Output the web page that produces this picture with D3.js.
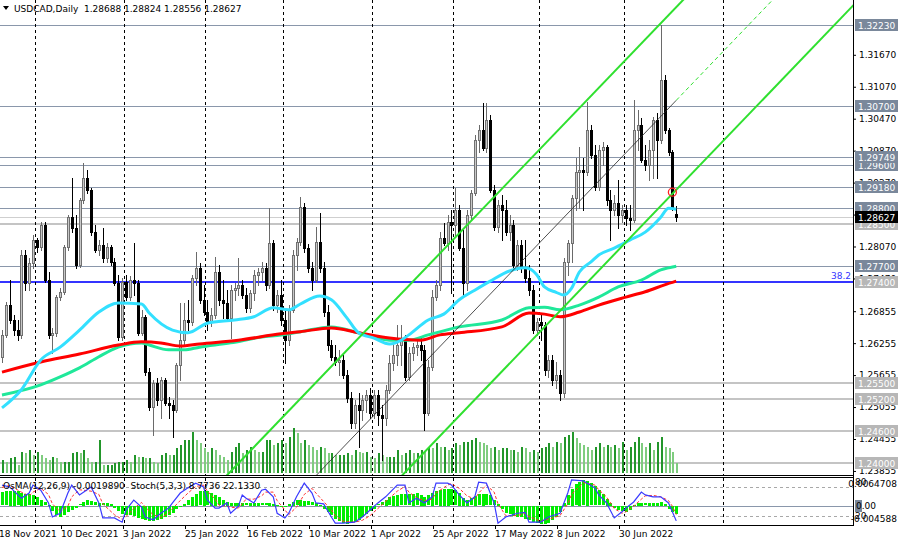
<!DOCTYPE html>
<html><head><meta charset="utf-8">
<script src="https://cdn.jsdelivr.net/npm/d3@7/dist/d3.min.js"></script>
<style>
html,body{margin:0;padding:0;background:#fff;}
svg{display:block;}
text{font-family:"DejaVu Sans",sans-serif;font-size:9px;}
</style></head><body>
<svg id="chart" width="900" height="545"></svg>
<script>
// ---------------- DATA ----------------
const symbolTitle = "USDCAD,Daily";
const lastQuote = [1.28688, 1.28824, 1.28556, 1.28627];
const open = [
1.2600,1.2641,1.2697,1.2669,1.2650,1.2641,1.2791,1.2739,1.2776,1.2819,
1.2806,1.2848,1.2744,1.2641,1.2645,1.2712,1.2722,1.2806,1.2863,1.2842,
1.2772,1.2894,1.2936,1.2913,1.2834,1.2801,1.2810,1.2785,1.2806,1.2778,
1.2739,1.2637,1.2740,1.2712,1.2744,1.2739,1.2645,1.2675,1.2571,1.2506,
1.2551,1.2519,1.2556,1.2513,1.2509,1.2500,1.2585,1.2632,1.2669,1.2665,
1.2748,1.2767,1.2707,1.2684,1.2665,1.2678,1.2759,1.2707,1.2701,1.2673,
1.2725,1.2729,1.2735,1.2716,1.2692,1.2720,1.2754,1.2759,1.2767,1.2735,
1.2814,1.2697,1.2716,1.2669,1.2632,1.2688,1.2791,1.2815,1.2881,1.2804,
1.2767,1.2744,1.2815,1.2767,1.2684,1.2622,1.2600,1.2590,1.2594,1.2566,
1.2523,1.2476,1.2509,1.2500,1.2519,1.2528,1.2494,1.2528,1.2491,1.2485,
1.2538,1.2588,1.2603,1.2622,1.2632,1.2562,1.2607,1.2618,1.2622,1.2613,
1.2494,1.2581,1.2712,1.2735,1.2823,1.2814,1.2853,1.2848,1.2876,1.2804,
1.2739,1.2866,1.2908,1.3007,1.3026,1.2992,1.3045,1.2913,1.2844,1.2885,
1.2876,1.2834,1.2848,1.2772,1.2810,1.2767,1.2748,1.2725,1.2650,1.2665,
1.2660,1.2575,1.2594,1.2556,1.2566,1.2532,1.2778,1.2814,1.2898,1.2947,
1.2951,1.2947,1.3026,1.2979,1.2919,1.2988,1.2994,1.2894,1.2876,1.2889,
1.2866,1.2876,1.2861,1.2857,1.3026,1.3035,1.2970,1.2960,1.2988,1.3045,
1.3007,1.3120,1.3026,1.2985,1.28688];
const high = [
1.2650,1.2703,1.2744,1.2678,1.2669,1.2801,1.2801,1.2785,1.2829,1.2823,
1.2853,1.2853,1.2759,1.2654,1.2716,1.2729,1.2810,1.2866,1.2936,1.2866,
1.2898,1.2964,1.2951,1.2917,1.2848,1.2819,1.2842,1.2814,1.2810,1.2785,
1.2754,1.2748,1.2754,1.2752,1.2814,1.2744,1.2688,1.2678,1.2579,1.2556,
1.2560,1.2562,1.2560,1.2525,1.2519,1.2588,1.2701,1.2701,1.2707,1.2754,
1.2797,1.2776,1.2735,1.2707,1.2692,1.2787,1.2772,1.2744,1.2725,1.2735,
1.2739,1.2785,1.2744,1.2729,1.2725,1.2763,1.2767,1.2778,1.2776,1.2879,
1.2819,1.2725,1.2744,1.2688,1.2697,1.2801,1.2823,1.2900,1.2889,1.2812,
1.2778,1.2844,1.2870,1.2778,1.2697,1.2632,1.2622,1.2613,1.2603,1.2575,
1.2534,1.2519,1.2532,1.2528,1.2538,1.2541,1.2538,1.2538,1.2509,1.2547,
1.2603,1.2626,1.2660,1.2660,1.2641,1.2618,1.2626,1.2632,1.2635,1.2622,
1.2594,1.2725,1.2744,1.2834,1.2851,1.2866,1.2876,1.2917,1.2885,1.2838,
1.2876,1.2913,1.3017,1.3035,1.3077,1.3077,1.3054,1.2923,1.2894,1.2904,
1.2894,1.2866,1.2857,1.2819,1.2819,1.2819,1.2772,1.2735,1.2673,1.2678,
1.2665,1.2603,1.2603,1.2590,1.2575,1.2785,1.2819,1.2904,1.2973,1.2994,
1.2973,1.3078,1.3035,1.2998,1.2998,1.3003,1.2998,1.2913,1.2904,1.2932,
1.2885,1.2885,1.2885,1.3082,1.3063,1.3048,1.2998,1.3007,1.3050,1.3058,
1.3223,1.3129,1.3030,1.2988,1.28824];
const low = [
1.2590,1.2637,1.2663,1.2641,1.2632,1.2635,1.2725,1.2725,1.2767,1.2797,
1.2801,1.2740,1.2635,1.2607,1.2639,1.2707,1.2718,1.2801,1.2834,1.2767,
1.2769,1.2889,1.2908,1.2829,1.2797,1.2791,1.2778,1.2778,1.2772,1.2735,
1.2632,1.2632,1.2707,1.2707,1.2716,1.2641,1.2641,1.2566,1.2500,1.2453,
1.2509,1.2485,1.2509,1.2485,1.2449,1.2496,1.2556,1.2622,1.2650,1.2660,
1.2735,1.2701,1.2678,1.2650,1.2658,1.2673,1.2697,1.2673,1.2669,1.2635,
1.2707,1.2716,1.2710,1.2684,1.2684,1.2707,1.2735,1.2744,1.2725,1.2729,
1.2688,1.2684,1.2660,1.2588,1.2622,1.2684,1.2763,1.2810,1.2797,1.2759,
1.2725,1.2740,1.2759,1.2677,1.2613,1.2594,1.2585,1.2566,1.2560,1.2515,
1.2466,1.2466,1.2431,1.2481,1.2496,1.2485,1.2485,1.2472,1.2406,1.2472,
1.2532,1.2575,1.2585,1.2585,1.2556,1.2556,1.2594,1.2603,1.2594,1.2462,
1.2491,1.2575,1.2707,1.2725,1.2810,1.2801,1.2720,1.2829,1.2801,1.2712,
1.2725,1.2857,1.2904,1.2985,1.2988,1.2985,1.2909,1.2838,1.2834,1.2819,
1.2829,1.2819,1.2767,1.2763,1.2759,1.2740,1.2716,1.2645,1.2641,1.2632,
1.2566,1.2562,1.2547,1.2541,1.2519,1.2525,1.2754,1.2778,1.2876,1.2879,
1.2876,1.2941,1.2973,1.2913,1.2913,1.2960,1.2885,1.2819,1.2866,1.2842,
1.2853,1.2848,1.2838,1.2853,1.2988,1.2966,1.2951,1.2932,1.2936,1.2936,
1.3001,1.3020,1.2979,1.2876,1.28556];
const close = [
1.2641,1.2697,1.2669,1.2650,1.2641,1.2791,1.2739,1.2776,1.2819,1.2806,
1.2848,1.2744,1.2641,1.2645,1.2712,1.2722,1.2806,1.2863,1.2842,1.2772,
1.2894,1.2936,1.2913,1.2834,1.2801,1.2810,1.2785,1.2806,1.2778,1.2739,
1.2637,1.2740,1.2712,1.2744,1.2739,1.2645,1.2675,1.2571,1.2506,1.2551,
1.2519,1.2556,1.2513,1.2509,1.2500,1.2585,1.2632,1.2669,1.2665,1.2748,
1.2767,1.2707,1.2684,1.2665,1.2678,1.2759,1.2707,1.2701,1.2673,1.2725,
1.2729,1.2735,1.2716,1.2692,1.2720,1.2754,1.2759,1.2767,1.2735,1.2814,
1.2697,1.2716,1.2669,1.2632,1.2688,1.2791,1.2815,1.2881,1.2804,1.2767,
1.2744,1.2815,1.2767,1.2684,1.2622,1.2600,1.2590,1.2594,1.2566,1.2523,
1.2476,1.2509,1.2500,1.2519,1.2528,1.2494,1.2528,1.2491,1.2485,1.2538,
1.2588,1.2603,1.2622,1.2632,1.2562,1.2607,1.2618,1.2622,1.2613,1.2494,
1.2581,1.2712,1.2735,1.2823,1.2814,1.2853,1.2848,1.2876,1.2804,1.2739,
1.2866,1.2908,1.3007,1.3026,1.2992,1.3045,1.2913,1.2844,1.2885,1.2876,
1.2834,1.2848,1.2772,1.2810,1.2767,1.2748,1.2725,1.2650,1.2665,1.2660,
1.2575,1.2594,1.2556,1.2566,1.2532,1.2778,1.2814,1.2898,1.2947,1.2951,
1.2947,1.3026,1.2979,1.2919,1.2988,1.2994,1.2894,1.2876,1.2889,1.2866,
1.2876,1.2861,1.2857,1.3026,1.3035,1.2970,1.2960,1.2988,1.3045,1.3007,
1.3120,1.3026,1.2985,1.2881,1.28627];
const volume = [
13000,11000,15000,16000,8000,21000,20000,23000,18000,21000,
18000,15000,13000,16000,15000,11000,11000,11000,20000,21000,
20000,23000,15000,11000,11000,33000,8000,8000,8000,10000,
11000,11000,13000,11000,18000,16000,16000,15000,15000,11000,
10000,18000,20000,18000,18000,25000,28000,33000,33000,41000,
33000,30000,25000,21000,25000,23000,18000,16000,13000,21000,
26000,30000,20000,23000,26000,23000,21000,21000,33000,33000,
28000,30000,33000,30000,36000,45000,40000,30000,33000,28000,
26000,23000,26000,25000,20000,20000,18000,18000,18000,20000,
18000,23000,21000,20000,21000,16000,15000,20000,18000,16000,
16000,16000,23000,18000,20000,23000,20000,20000,23000,21000,
26000,25000,30000,26000,26000,23000,25000,30000,28000,31000,
31000,33000,35000,31000,30000,28000,25000,26000,23000,25000,
25000,23000,23000,21000,26000,25000,21000,23000,21000,25000,
26000,30000,26000,31000,30000,36000,38000,41000,35000,30000,
28000,26000,23000,26000,30000,26000,28000,26000,28000,25000,
31000,23000,26000,31000,36000,30000,26000,30000,23000,31000,
36000,26000,25000,21000,10000];
const osma = [
0.0031,0.0033,0.0035,0.0035,0.0034,0.0030,0.0028,0.0026,0.0024,0.0019,
0.0014,0.0008,0.0002,-0.0012,-0.0022,-0.0026,-0.0020,-0.0014,-0.0010,-0.0005,
0.0003,0.0009,0.0012,0.0010,0.0008,0.0006,0.0005,0.0006,0.0004,-0.0004,
-0.0012,-0.0018,-0.0020,-0.0022,-0.0024,-0.0028,-0.0031,-0.0034,-0.0036,-0.0035,
-0.0033,-0.0030,-0.0027,-0.0022,-0.0016,-0.0008,-0.0002,0.0004,0.0012,0.0020,
0.0028,0.0033,0.0035,0.0034,0.0030,0.0025,0.0019,0.0013,0.0009,0.0007,
0.0006,0.0007,0.0006,0.0005,0.0006,0.0007,0.0006,0.0005,0.0005,0.0006,
0.0004,0.0001,-0.0002,-0.0003,0.0004,0.0009,0.0012,0.0013,0.0011,0.0010,
0.0008,0.0006,0.0002,-0.0006,-0.0014,-0.0022,-0.0030,-0.0035,-0.0040,-0.0042,
-0.0041,-0.0038,-0.0033,-0.0026,-0.0018,-0.0011,-0.0006,0.0003,0.0008,0.0014,
0.0019,0.0023,0.0025,0.0027,0.0026,0.0027,0.0028,0.0029,0.0025,0.0020,
0.0024,0.0030,0.0034,0.0037,0.0039,0.0040,0.0038,0.0036,0.0030,0.0018,
0.0014,0.0017,0.0023,0.0026,0.0028,0.0027,0.0024,0.0012,0.0004,-0.0008,
-0.0016,-0.0019,-0.0024,-0.0026,-0.0027,-0.0030,-0.0033,-0.0037,-0.0040,-0.0042,
-0.0042,-0.0040,-0.0034,-0.0025,-0.0014,0.0006,0.0024,0.0040,0.0050,0.0056,
0.0059,0.0058,0.0052,0.0045,0.0036,0.0027,0.0016,0.0006,-0.0004,-0.0009,
-0.0012,-0.0013,-0.0010,0.0002,0.0006,0.0006,0.0005,0.0006,0.0006,0.0007,
0.0009,0.0004,-0.0006,-0.0014,-0.0019890];
const stochIdx = [0,2,5,7,8,10,12,13,15,17,18,20,23,25,26,29,31,32,34,36,37,39,41,43,44,46,48,50,52,53,55,56,58,59,61,62,63,65,67,68,70,71,73,74,76,78,80,81,83,85,86,88,91,93,95,97,99,102,104,105,107,109,111,112,115,116,118,120,122,123,125,127,128,130,133,135,136,139,141,144,146,147,150,153,154,156,158,160,161,163,165,166,168,170,172,173,174];
const stochMain = [85,81,57,68,85,74,47,17,25,68,85,64,81,47,15,15,6,32,53,38,17,11,25,36,47,68,79,89,81,53,36,36,47,25,40,64,57,47,74,76,60,25,15,25,60,89,68,47,45,17,4,4,6,17,32,47,60,85,85,47,57,47,60,89,89,85,64,47,60,91,89,47,4,17,25,27,6,6,17,25,68,96,94,79,64,47,15,28,36,49,70,64,60,60,47,28,8.7736];
const stochSignal = [80,84,70,62,70,78,65,45,28,40,60,75,72,65,45,22,12,18,35,48,38,22,16,25,35,52,68,82,85,72,55,42,40,38,36,45,55,55,62,70,70,52,32,22,38,65,78,68,50,32,20,8,6,10,20,35,50,72,82,70,58,52,55,68,85,88,78,62,55,68,85,70,45,20,20,25,18,8,12,20,45,65,90,85,75,60,35,25,28,40,55,62,63,60,52,40,22.133];
const cyanIdx = [0,5,10,15,20,25,30,36,38,44,48,53,60,65,70,74,77,82,85,89,92,96,100,103,105,110,114,118,122,126,131,135,138,140,143,145,147,149,152,154,158,162,166,170,172,174];
const cyanVal = [1.2504,1.2538,1.2594,1.2618,1.2650,1.2684,1.2701,1.2699,1.2682,1.2650,1.2645,1.2663,1.2669,1.2675,1.2692,1.2688,1.2699,1.2714,1.2707,1.2673,1.2645,1.2635,1.2624,1.2631,1.2641,1.2669,1.2680,1.2707,1.2725,1.2742,1.2761,1.2767,1.2754,1.2731,1.2721,1.2716,1.2729,1.2759,1.2778,1.2791,1.2804,1.2819,1.2834,1.2862,1.2879,1.2877];
const greenIdx = [0,10,15,20,25,30,36,38,43,47,51,59,67,72,77,85,92,100,105,110,118,129,136,140,144,149,154,159,165,170,174];
const greenVal = [1.2528,1.2547,1.2562,1.2579,1.2600,1.2618,1.2626,1.2622,1.2613,1.2613,1.2618,1.2626,1.2637,1.2641,1.2647,1.2656,1.2645,1.2631,1.2631,1.2641,1.2656,1.2669,1.2692,1.2693,1.2688,1.2697,1.2712,1.2731,1.2744,1.2763,1.2770];
const redIdx = [0,10,20,30,36,41,46,51,61,72,77,85,92,100,108,113,118,129,136,140,144,149,154,161,166,171,174];
const redVal = [1.2571,1.2590,1.2605,1.2622,1.2628,1.2626,1.2620,1.2624,1.2631,1.2643,1.2647,1.2654,1.2645,1.2635,1.2631,1.2641,1.2645,1.2656,1.2682,1.2680,1.2675,1.2684,1.2697,1.2712,1.2722,1.2735,1.2742];
const darkLevels = [1.32230,1.30700,1.29600,1.29749,1.29180,1.28800,1.27700];
const lightLevels = [1.28500,1.25500,1.25200,1.24600,1.24000];
const fiboLevel = [1.27400];
const fiboText = ["38.2"];
const channelIdx = [82,174];
const channelMid = [1.2384,1.30815];
const channelOffset = [0.0175,-0.0168];
const alertIdx = [173], alertPrice = [1.2909];
const priceTicks = [1.3167,1.3107,1.3047,1.2987,1.2927,1.2867,1.2807,1.2747,1.26855,1.26255,1.25655,1.25055,1.24455,1.23855];
const xTickIdx = [0,16,32,48,64,80,96,112,128,144,160];
const xTickLabels = ["18 Nov 2021","10 Dec 2021","3 Jan 2022","25 Jan 2022","16 Feb 2022","10 Mar 2022","1 Apr 2022","25 Apr 2022","17 May 2022","8 Jun 2022","30 Jun 2022"];
const monthGridIdx = [9,32,53,73,96,117,139,161,186.5];
const osmaTitle = "OsMA(12,26,9) -0.0019890  Stoch(5,3,3) 8.7736 22.1330";
const osmaScaleLabels = ["0.0064708","0.00","-0.004588"];
const stochLevels = [80,20];

// ---------------- LAYOUT ----------------
const PR = 853, MB = 475, IT = 478, IB = 525;
const svg = d3.select('#chart');
svg.append('rect').attr('width',900).attr('height',545).attr('fill','#fff');
const x = d3.scaleLinear().domain([0,220]).range([2, 2+3.875*220]);
const yP = d3.scaleLinear().domain([1.23779,1.32699]).range([MB,0]);
const yV = d3.scaleLinear().domain([0,50000]).range([473,423]);
const yO = d3.scaleLinear().domain([-0.004588,0.0064708]).range([IB,IT]);
const yS = d3.scaleLinear().domain([0,100]).range([IB,IT]);
const cx = i => Math.round(x(i));
const ry = v => Math.round(yP(v));

const defs = svg.append('defs');
defs.append('clipPath').attr('id','cm').append('rect').attr('x',0).attr('y',0).attr('width',PR).attr('height',MB);
defs.append('clipPath').attr('id','ci').append('rect').attr('x',0).attr('y',IT).attr('width',PR).attr('height',IB-IT);

const bars = close.map((c,i)=>({i,o:open[i],h:high[i],l:low[i],c,v:volume[i],os:osma[i]}));

// ---------- MAIN PANEL ----------
const M = svg.append('g').attr('clip-path','url(#cm)').attr('shape-rendering','crispEdges');
M.selectAll('line.lt').data(lightLevels).join('line')
  .attr('x1',0).attr('x2',PR).attr('y1',d=>ry(d)).attr('y2',d=>ry(d))
  .attr('stroke','#c4c4c4').attr('stroke-width',2);
M.selectAll('line.dk').data(darkLevels).join('line')
  .attr('x1',0).attr('x2',PR).attr('y1',d=>ry(d)+0.5).attr('y2',d=>ry(d)+0.5)
  .attr('stroke','#8a97ab').attr('stroke-width',1.3);
M.append('line').attr('x1',0).attr('x2',PR).attr('y1',ry(lastQuote[3])+0.5).attr('y2',ry(lastQuote[3])+0.5)
  .attr('stroke','#cfcfcf').attr('stroke-width',1);
M.selectAll('line.fb').data(fiboLevel).join('line')
  .attr('x1',0).attr('x2',PR).attr('y1',d=>ry(d)).attr('y2',d=>ry(d))
  .attr('stroke','#3434ff').attr('stroke-width',2);
M.selectAll('line.gr').data(monthGridIdx).join('line')
  .attr('x1',d=>Math.round(x(d)-2)+0.5).attr('x2',d=>Math.round(x(d)-2)+0.5)
  .attr('y1',0).attr('y2',MB).attr('stroke','#000').attr('stroke-dasharray','3,3');
M.selectAll('rect.vol').data(bars).join('rect')
  .attr('x',d=>cx(d.i)).attr('width',2)
  .attr('y',d=>Math.round(yV(d.v))).attr('height',d=>473-Math.round(yV(d.v)))
  .attr('fill',(d,k)=> (k>0 && d.v<volume[k-1]) ? '#7fcc7f' : '#22962a');
M.selectAll('line.wk').data(bars).join('line')
  .attr('x1',d=>cx(d.i)+0.5).attr('x2',d=>cx(d.i)+0.5)
  .attr('y1',d=>ry(d.h)).attr('y2',d=>ry(d.l)+1)
  .attr('stroke',d=>d.c>=d.o?'#6a6a6a':'#000');
M.selectAll('rect.bd').data(bars).join('rect')
  .each(function(d){
    const yt = ry(Math.max(d.o,d.c)), yb = ry(Math.min(d.o,d.c));
    const s = d3.select(this);
    if (d.c>=d.o){
      s.attr('x',cx(d.i)-0.5).attr('y',yt+0.5).attr('width',2).attr('height',Math.max(0,yb-yt))
       .attr('fill','#c8c8c8').attr('stroke','#707070').attr('stroke-width',1);
    } else {
      s.attr('x',cx(d.i)-1).attr('y',yt).attr('width',3).attr('height',Math.max(1,yb-yt+1))
       .attr('fill','#000');
    }
  });
const maLine = d3.line().x(d=>x(d[0])).y(d=>yP(d[1])).curve(d3.curveMonotoneX);
const MA = svg.append('g').attr('clip-path','url(#cm)');
MA.append('path').attr('d',maLine(greenIdx.map((v,k)=>[v,greenVal[k]]))).attr('fill','none').attr('stroke','#1fe89a').attr('stroke-width',3);
MA.append('path').attr('d',maLine(redIdx.map((v,k)=>[v,redVal[k]]))).attr('fill','none').attr('stroke','#ff0000').attr('stroke-width',3);
MA.append('path').attr('d',maLine(cyanIdx.map((v,k)=>[v,cyanVal[k]]))).attr('fill','none').attr('stroke','#33e0ff').attr('stroke-width',3);
const slope = (channelMid[1]-channelMid[0])/(channelIdx[1]-channelIdx[0]);
const mid = i => channelMid[0] + (i-channelIdx[0])*slope;
const i0 = 20, i1 = 240;
channelOffset.forEach(off=>{
  MA.append('line').attr('x1',x(i0)).attr('y1',yP(mid(i0)+off)).attr('x2',x(i1)).attr('y2',yP(mid(i1)+off))
    .attr('stroke','#2fe02f').attr('stroke-width',2);
});
MA.append('line').attr('x1',x(i0)).attr('y1',yP(mid(i0))).attr('x2',x(channelIdx[1])).attr('y2',yP(mid(channelIdx[1])))
  .attr('stroke','#222').attr('stroke-width',0.8);
MA.append('line').attr('x1',x(channelIdx[1])).attr('y1',yP(mid(channelIdx[1]))).attr('x2',x(i1)).attr('y2',yP(mid(i1)))
  .attr('stroke','#2fe02f').attr('stroke-width',1).attr('stroke-dasharray','4,3');
MA.selectAll('circle.al').data(alertIdx).join('circle')
  .attr('cx',d=>x(d)).attr('cy',(d,k)=>yP(alertPrice[k])).attr('r',4)
  .attr('fill','none').attr('stroke','#ff2020').attr('stroke-width',1.3);
MA.selectAll('text.fb').data(fiboLevel).join('text')
  .attr('x',PR-2).attr('y',d=>ry(d)-3).attr('text-anchor','end').attr('fill','#3434ff').text((d,k)=>fiboText[k]);
svg.append('path').attr('d','M3,6 L9,6 L6,10 Z').attr('fill','#000');
svg.append('text').attr('x',14).attr('y',12).attr('fill','#000').style('white-space','pre')
  .text(symbolTitle + '  ' + lastQuote.map(d=>d.toFixed(5)).join(' '));

// ---------- INDICATOR PANEL ----------
const I = svg.append('g').attr('clip-path','url(#ci)');
I.selectAll('line.gr').data(monthGridIdx).join('line')
  .attr('x1',d=>Math.round(x(d)-2)+0.5).attr('x2',d=>Math.round(x(d)-2)+0.5)
  .attr('y1',IT).attr('y2',IB).attr('stroke','#000').attr('stroke-dasharray','3,3').attr('shape-rendering','crispEdges');
I.selectAll('line.lv').data(stochLevels).join('line')
  .attr('x1',0).attr('x2',PR).attr('y1',d=>Math.round(yS(d))+0.5).attr('y2',d=>Math.round(yS(d))+0.5)
  .attr('stroke','#a8a8a8').attr('stroke-dasharray','3,3').attr('shape-rendering','crispEdges');
I.append('line').attr('x1',0).attr('x2',PR).attr('y1',Math.round(yO(0))+0.5).attr('y2',Math.round(yO(0))+0.5)
  .attr('stroke','#8a97ab').attr('shape-rendering','crispEdges');
I.selectAll('rect.os').data(bars).join('rect')
  .attr('x',d=>cx(d.i)-1).attr('width',3)
  .attr('y',d=>Math.round(Math.min(yO(0),yO(d.os))))
  .attr('height',d=>Math.max(1,Math.round(Math.abs(yO(d.os)-yO(0)))))
  .attr('fill','#00ee00').attr('shape-rendering','crispEdges');
const sLine = d3.line().x(d=>x(d[0])).y(d=>yS(d[1]));
I.append('path').attr('d',sLine(stochIdx.map((v,k)=>[v,stochSignal[k]]))).attr('fill','none')
  .attr('stroke','#ff3030').attr('stroke-width',1).attr('stroke-dasharray','3,2');
I.append('path').attr('d',sLine(stochIdx.map((v,k)=>[v,stochMain[k]]))).attr('fill','none')
  .attr('stroke','#3a3aff').attr('stroke-width',1.2);
svg.append('text').attr('x',3).attr('y',489).attr('fill','#000').style('white-space','pre').text(osmaTitle);

// ---------- BORDERS ----------
const B = svg.append('g').attr('shape-rendering','crispEdges').attr('stroke','#000');
B.append('line').attr('x1',0).attr('x2',PR).attr('y1',MB+0.5).attr('y2',MB+0.5);
B.append('line').attr('x1',0).attr('x2',PR).attr('y1',IT-0.5).attr('y2',IT-0.5);
B.append('line').attr('x1',0).attr('x2',PR).attr('y1',IB+0.5).attr('y2',IB+0.5);
B.append('line').attr('x1',PR+0.5).attr('x2',PR+0.5).attr('y1',0).attr('y2',IB+1);

// ---------- RIGHT AXIS ----------
const ax = svg.append('g').attr('transform',`translate(${PR},0)`)
  .call(d3.axisRight(yP).tickValues(priceTicks).tickFormat(d3.format('.5f')).tickSize(3).tickPadding(3).tickSizeOuter(0));
ax.select('.domain').remove();
ax.selectAll('text').attr('font-family','DejaVu Sans').attr('font-size',9).attr('fill','#000');
ax.selectAll('line').attr('stroke','#000');
function levelBox(p, fill){
  const yy = ry(p);
  svg.append('rect').attr('x',PR+2).attr('y',yy-6).attr('width',43).attr('height',12).attr('fill',fill);
  svg.append('text').attr('x',PR+5).attr('y',yy+3.5).attr('fill','#fff').text(p.toFixed(5));
}
lightLevels.forEach(p=>levelBox(p,'#b7b7b7'));
fiboLevel.forEach(p=>levelBox(p,'#b7b7b7'));
darkLevels.forEach(p=>levelBox(p,'#7a889b'));
levelBox(lastQuote[3],'#000');
// indicator axis labels, right-aligned so they stay inside the 900px width
svg.append('text').attr('x',PR+2).attr('y',485).attr('fill','#000').attr('font-size',7.5).text('80');
svg.append('text').attr('x',897).attr('y',487).attr('text-anchor','end').attr('fill','#000').attr('font-size',7.5).text(osmaScaleLabels[0]);
svg.append('rect').attr('x',PR+2).attr('y',Math.round(yO(0))-6).attr('width',7).attr('height',12).attr('fill','#7a889b');
svg.append('text').attr('x',PR+3).attr('y',Math.round(yO(0))+3).attr('fill','#000').attr('font-size',7.5).text(osmaScaleLabels[1]);
svg.append('text').attr('x',897).attr('y',522).attr('text-anchor','end').attr('fill','#000').attr('font-size',7.5).text(osmaScaleLabels[2]);
svg.append('text').attr('x',PR+2).attr('y',519).attr('fill','#000').attr('font-size',7.5).text('20');

// ---------- X AXIS LABELS ----------
svg.selectAll('text.xl').data(xTickIdx).join('text')
  .attr('x',d=>x(d)-3).attr('y',537).attr('fill','#000').text((d,k)=>xTickLabels[k]);
svg.selectAll('line.xt').data(xTickIdx).join('line')
  .attr('x1',d=>Math.round(x(d)-3)+0.5).attr('x2',d=>Math.round(x(d)-3)+0.5)
  .attr('y1',IB+1).attr('y2',IB+4).attr('stroke','#000').attr('shape-rendering','crispEdges');
</script></body></html>
